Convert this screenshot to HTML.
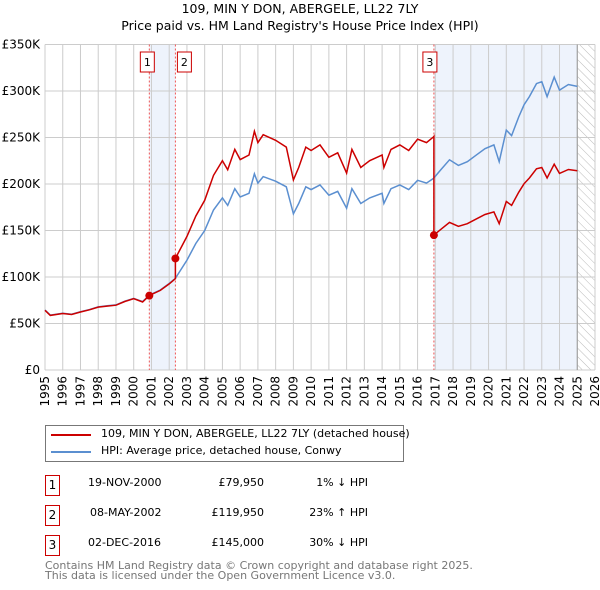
<!DOCTYPE html>
<html><head><meta charset="utf-8"><style>
body{margin:0;background:#fff;font-family:"DejaVu Sans","Liberation Sans",sans-serif;}
#wrap{position:relative;width:600px;height:590px;overflow:hidden;}
.t{position:absolute;font-size:12px;color:#000;white-space:nowrap;}
.box{position:absolute;width:13px;height:19px;border:1px solid #c00;font-size:12px;text-align:center;line-height:19px;}
</style></head><body>
<div id="wrap">
<div class="t" style="left:0;width:600px;text-align:center;top:1px;font-size:12.5px">109, MIN Y DON, ABERGELE, LL22 7LY</div>
<div class="t" style="left:0;width:600px;text-align:center;top:18px;font-size:12.5px">Price paid vs. HM Land Registry's House Price Index (HPI)</div>
<svg id="chart" width="600" height="410" style="position:absolute;left:0;top:0"></svg>
<div style="position:absolute;left:45px;top:425px;width:357px;height:35px;border:1px solid #777;">
 <div><div style="position:absolute;left:5px;top:8px;width:40px;height:2px;background:#c00"></div><div class="t" style="left:55px;top:1px;font-size:11px">109, MIN Y DON, ABERGELE, LL22 7LY (detached house)</div></div>
 <div><div style="position:absolute;left:5px;top:25px;width:40px;height:2px;background:#5b8fd0"></div><div class="t" style="left:55px;top:18px;font-size:11px">HPI: Average price, detached house, Conwy</div></div>
</div>
<div>
 <div>
  <div class="box" style="left:45px;top:475px">1</div>
  <div class="t" style="left:88px;top:476px;font-size:11px">19-NOV-2000</div>
  <div class="t" style="left:200px;width:64px;text-align:right;top:476px;font-size:11px">£79,950</div>
  <div class="t" style="left:300px;width:68px;text-align:right;top:476px;font-size:11px">1% ↓ HPI</div>
 </div>
 <div>
  <div class="box" style="left:45px;top:505px">2</div>
  <div class="t" style="left:90px;top:506px;font-size:11px">08-MAY-2002</div>
  <div class="t" style="left:200px;width:64px;text-align:right;top:506px;font-size:11px">£119,950</div>
  <div class="t" style="left:300px;width:68px;text-align:right;top:506px;font-size:11px">23% ↑ HPI</div>
 </div>
 <div>
  <div class="box" style="left:45px;top:535px">3</div>
  <div class="t" style="left:88px;top:536px;font-size:11px">02-DEC-2016</div>
  <div class="t" style="left:200px;width:64px;text-align:right;top:536px;font-size:11px">£145,000</div>
  <div class="t" style="left:300px;width:68px;text-align:right;top:536px;font-size:11px">30% ↓ HPI</div>
 </div>
</div>
<div class="t" style="left:45px;top:559px;font-size:11px;color:#777">Contains HM Land Registry data © Crown copyright and database right 2025.</div>
<div class="t" style="left:45px;top:569px;font-size:11px;color:#777">This data is licensed under the Open Government Licence v3.0.</div>
</div>
<script>
const hpiYears=[1995.0,1995.3,1996,1996.5,1997,1997.5,1998,1998.5,1999,1999.5,2000,2000.5,2000.9,2001.5,2002,2002.35,2003,2003.5,2004,2004.5,2005,2005.3,2005.7,2006,2006.5,2006.8,2007,2007.3,2008,2008.6,2009,2009.3,2009.7,2010,2010.5,2011,2011.5,2012,2012.3,2012.8,2013.3,2014,2014.1,2014.5,2015,2015.5,2016,2016.5,2016.9,2017.3,2017.8,2018.3,2018.8,2019.3,2019.8,2020.3,2020.6,2021,2021.3,2021.7,2022,2022.3,2022.7,2023,2023.3,2023.7,2024,2024.5,2025];
const hpiValues=[64.5,59,61,60,62.7,65,68,69,70,74,77,73.5,80.7,86,93,98.6,118,136,150,172,185,177,195,186,190,211,201,208,203,197,168,179,197,194,199,188,192,174,195,179,185,190,179,195,199,194,204,201,206,215,226,220,224,231,238,242,224,258,252,272,285,294,308,310,294,315,301,307,305];
const saleYears=[2000.88,2002.35,2016.92];
const salePrices=[79.95,119.95,145.0];
const yTicks=[0,50,100,150,200,250,300,350];
const yTickLabels=["£0","£50K","£100K","£150K","£200K","£250K","£300K","£350K"];
const xTicks=[1995,1996,1997,1998,1999,2000,2001,2002,2003,2004,2005,2006,2007,2008,2009,2010,2011,2012,2013,2014,2015,2016,2017,2018,2019,2020,2021,2022,2023,2024,2025,2026];

const X0=45,X1=595,Y0=370,Y1=44.5;
const xs=y=>X0+(y-1995)/(2026-1995)*(X1-X0);
const ys=v=>Y0-v/350*(Y0-Y1);
const NS="http://www.w3.org/2000/svg";
const svg=document.getElementById('chart');
function mk(t,a,p){const e=document.createElementNS(NS,t);for(const k in a)e.setAttribute(k,a[k]);(p||svg).appendChild(e);return e;}
function hpiAt(t){for(let i=1;i<hpiYears.length;i++){if(t<=hpiYears[i]){const f=(t-hpiYears[i-1])/(hpiYears[i]-hpiYears[i-1]);return hpiValues[i-1]+f*(hpiValues[i]-hpiValues[i-1]);}}return hpiValues[hpiValues.length-1];}
const defs=mk('defs',{});
const pat=mk('pattern',{id:'hatch',width:6,height:6,patternUnits:'userSpaceOnUse',patternTransform:'rotate(-45)'},defs);
mk('line',{x1:0,y1:0,x2:0,y2:6,stroke:'#bbb','stroke-width':1},pat);
let s=mk('rect',{x:xs(saleYears[0]),y:Y1,width:xs(saleYears[1])-xs(saleYears[0]),height:Y0-Y1,fill:'#eef3fc'});

s=mk('rect',{x:xs(saleYears[2]),y:Y1,width:xs(2025)-xs(saleYears[2]),height:Y0-Y1,fill:'#eef3fc'});

s=mk('rect',{x:xs(2025),y:Y1,width:xs(2026)-xs(2025),height:Y0-Y1,fill:'url(#hatch)'});

yTicks.forEach((v,i)=>{
 const l=mk('line',{x1:X0,x2:X1,y1:ys(v),y2:ys(v),stroke:'#ccc','stroke-width':1});
 
 const t=mk('text',{x:X0-5,y:ys(v)+4,'text-anchor':'end','font-size':12,'font-family':'DejaVu Sans, Liberation Sans, sans-serif'});
 t.textContent=yTickLabels[i];
});
xTicks.forEach(y=>{
 const l=mk('line',{x1:xs(y),x2:xs(y),y1:Y1,y2:Y0,stroke:'#ccc','stroke-width':1});
 
 const tx=xs(y)+4, ty=Y0+6;
 const t=mk('text',{x:tx,y:ty,'text-anchor':'end','font-size':12,transform:'rotate(-90 '+tx+' '+ty+')','font-family':'DejaVu Sans, Liberation Sans, sans-serif'});
 t.textContent=y;
});
let b=mk('line',{x1:xs(2025),x2:xs(2025),y1:Y1,y2:Y0,stroke:'#999','stroke-width':1});

saleYears.forEach((y,i)=>{
 const l=mk('line',{x1:xs(y),x2:xs(y),y1:Y1,y2:Y0,stroke:'#e55','stroke-width':1,'stroke-dasharray':'2,2'});
 
 const bx=xs(y)-(i==2?11:(i==0?9:-2));
 const r=mk('rect',{x:bx,y:52,width:14,height:20,fill:'#fff',stroke:'#c00'});
 
 const t=mk('text',{x:bx+7,y:66,'text-anchor':'middle','font-size':11,'font-family':'DejaVu Sans, sans-serif'});
 t.textContent=String(i+1);
});
let d='';hpiYears.forEach((y,i)=>{d+=(i?'L':'M')+xs(y).toFixed(1)+','+ys(hpiValues[i]).toFixed(1);});
let p=mk('path',{d:d,fill:'none',stroke:'#5b8fd0','stroke-width':1.5});

const ratios=saleYears.map((y,i)=>salePrices[i]/hpiAt(y));
function ratioAt(t){let r=ratios[0];saleYears.forEach((y,i)=>{if(t>=y)r=ratios[i];});return r;}
const pts=[];
hpiYears.forEach((y,i)=>pts.push([y,hpiValues[i]]));
saleYears.forEach(y=>{pts.push([y-0.001,hpiAt(y)]);pts.push([y,hpiAt(y)]);});
pts.sort((a,b)=>a[0]-b[0]);
d='';pts.forEach((q,i)=>{d+=(i?'L':'M')+xs(q[0]).toFixed(1)+','+ys(q[1]*ratioAt(q[0])).toFixed(1);});
p=mk('path',{d:d,fill:'none',stroke:'#c00','stroke-width':1.5});

saleYears.forEach((y,i)=>{
 const c=mk('circle',{cx:xs(y),cy:ys(salePrices[i]),r:4,fill:'#c00'});
 
});
</script>
</body></html>
